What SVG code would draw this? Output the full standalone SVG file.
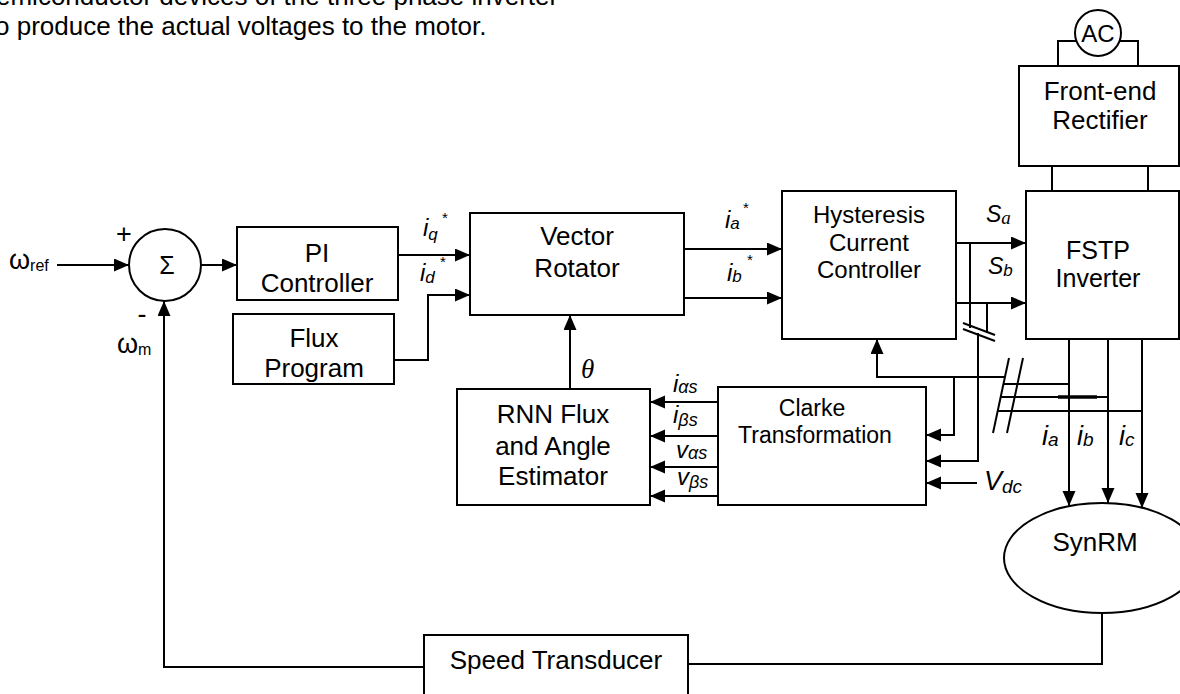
<svg xmlns="http://www.w3.org/2000/svg" width="1180" height="694" viewBox="0 0 1180 694">
<style>
text{font-family:"Liberation Sans",Arial,sans-serif;fill:#000}
.box{fill:#fff;stroke:#000;stroke-width:2}
.ln{fill:none;stroke:#000;stroke-width:2}
.arr{marker-end:url(#ah)}
.c{text-anchor:middle}
.f26{font-size:26px}
.f24{font-size:24px}
.it{font-style:italic}
.ser{font-family:"Liberation Serif","Times New Roman",serif}
.title{font-size:26px}
</style>
<defs>
<marker id="ah" markerUnits="userSpaceOnUse" markerWidth="16" markerHeight="14" refX="15" refY="6.5" orient="auto"><path d="M0,0 L15,6.5 L0,13 z" fill="#000"/></marker>
</defs>
<rect width="1180" height="694" fill="#fff"/>
<g id="title">
<text class="title" x="-4" y="5">emiconductor devices of the three phase inverter</text>
<text class="title" x="-5" y="35">o produce the actual voltages to the motor.</text>
</g>
<g id="connectors">
<line class="ln arr" x1="57" y1="265" x2="129" y2="265"/>
<line class="ln arr" x1="201" y1="265" x2="237" y2="265"/>
<line class="ln arr" x1="398" y1="255" x2="470" y2="255"/>
<polyline class="ln arr" points="394,360 428,360 428,295 470,295"/>
<line class="ln arr" x1="684" y1="249" x2="782" y2="249"/>
<line class="ln arr" x1="684" y1="298" x2="782" y2="298"/>
<line class="ln arr" x1="570" y1="389" x2="570" y2="315"/>
<line class="ln arr" x1="956" y1="243" x2="1026" y2="243"/>
<line class="ln arr" x1="956" y1="303" x2="1026" y2="303"/>
<line class="ln" x1="1052" y1="166" x2="1052" y2="191"/>
<line class="ln" x1="1148" y1="166" x2="1148" y2="191"/>
<polyline class="ln" points="1076,41 1058,41 1058,66"/>
<polyline class="ln" points="1120,41 1138,41 1138,66"/>
<line class="ln" x1="970" y1="243" x2="970" y2="328"/>
<line class="ln" x1="987" y1="303" x2="987" y2="333"/>
<line class="ln" x1="963" y1="323" x2="995" y2="335"/>
<line class="ln" x1="963" y1="329" x2="995" y2="341"/>
<polyline class="ln arr" points="978,333 978,461 926,461"/>
<polyline class="ln arr" points="1005,377 877,377 877,339"/>
<polyline class="ln arr" points="954,377 954,435 926,435"/>
<line class="ln arr" x1="977" y1="483" x2="926" y2="483"/>
<line class="ln" x1="1009" y1="358" x2="993" y2="433"/>
<line class="ln" x1="1023" y1="358" x2="1007" y2="433"/>
<line class="ln" x1="1003" y1="384" x2="1069" y2="384"/>
<line class="ln" x1="1000" y1="397" x2="1108" y2="397"/>
<line class="ln" x1="997" y1="411" x2="1142" y2="411"/>
<line x1="1058" y1="397" x2="1097" y2="397" stroke="#000" stroke-width="3.5"/>
<line class="ln arr" x1="1069" y1="339" x2="1069" y2="506"/>
<line class="ln arr" x1="1108" y1="339" x2="1108" y2="503"/>
<line class="ln arr" x1="1142" y1="339" x2="1142" y2="508"/>
<line class="ln arr" x1="718" y1="402" x2="650" y2="402"/>
<line class="ln arr" x1="718" y1="436" x2="650" y2="436"/>
<line class="ln arr" x1="718" y1="467" x2="650" y2="467"/>
<line class="ln arr" x1="718" y1="496" x2="650" y2="496"/>
<polyline class="ln" points="1102,613 1102,664 688,664"/>
<polyline class="ln arr" points="424,667 164,667 164,301"/>
</g>
<g id="sum">
<circle class="box" cx="165" cy="265" r="36"/>
<text class="c" x="167" y="274" font-size="25">Σ</text>
</g>
<g id="pi">
<rect class="box" x="237" y="227" width="161" height="73"/>
<text class="c f26" x="317" y="262">PI</text>
<text class="c f26" x="317" y="292">Controller</text>
</g>
<g id="flux">
<rect class="box" x="233" y="314" width="161" height="70"/>
<text class="c f26" x="314" y="347">Flux</text>
<text class="c f26" x="314" y="377">Program</text>
</g>
<g id="vector">
<rect class="box" x="470" y="213" width="214" height="102"/>
<text class="c f26" x="577" y="245">Vector</text>
<text class="c f26" x="577" y="277">Rotator</text>
</g>
<g id="hysteresis">
<rect class="box" x="782" y="191" width="174" height="148"/>
<text class="c f24" x="869" y="223">Hysteresis</text>
<text class="c f24" x="869" y="251">Current</text>
<text class="c f24" x="869" y="278">Controller</text>
</g>
<g id="fstp">
<rect class="box" x="1026" y="191" width="153" height="148"/>
<text class="c" font-size="25" x="1098" y="259">FSTP</text>
<text class="c" font-size="25" x="1098" y="287">Inverter</text>
</g>
<g id="rectifier">
<rect class="box" x="1019" y="66" width="160" height="100"/>
<text class="c f26" x="1100" y="100">Front-end</text>
<text class="c f26" x="1100" y="129">Rectifier</text>
</g>
<g id="ac">
<circle class="box" cx="1098" cy="33" r="23"/>
<text class="c f24" x="1098" y="42">AC</text>
</g>
<g id="rnn">
<rect class="box" x="457" y="389" width="193" height="116"/>
<text class="c f26" x="553" y="423">RNN Flux</text>
<text class="c f26" x="553" y="455">and Angle</text>
<text class="c f26" x="553" y="485">Estimator</text>
</g>
<g id="clarke">
<rect class="box" x="718" y="387" width="208" height="118"/>
<text class="c" font-size="23" x="812" y="416">Clarke</text>
<text class="c" font-size="23" x="815" y="443">Transformation</text>
</g>
<g id="synrm">
<ellipse class="box" cx="1102" cy="558" rx="98" ry="55"/>
<text class="c f26" x="1095" y="551">SynRM</text>
</g>
<g id="speed">
<rect class="box" x="424" y="635" width="264" height="72"/>
<text class="c f26" x="556" y="669">Speed Transducer</text>
</g>
<g id="labels">
<text font-size="27" x="9" y="269">ω<tspan font-size="16" dy="2">ref</tspan></text>
<text font-size="27" x="117" y="353">ω<tspan font-size="16" dy="2">m</tspan></text>
<text class="c" font-size="27" x="124" y="243">+</text>
<text class="c" font-size="27" x="142" y="323">-</text>
<text class="it" font-size="24" x="423" y="236">i<tspan font-size="17" dy="4">q</tspan></text>
<text font-size="15" x="442" y="223">*</text>
<text class="it" font-size="24" x="420" y="281">i<tspan font-size="17" dy="2">d</tspan></text>
<text font-size="15" x="440" y="267">*</text>
<text class="it" font-size="24" x="725" y="228">i<tspan font-size="17" dy="1">a</tspan></text>
<text font-size="15" x="743" y="213">*</text>
<text class="it" font-size="24" x="727" y="281">i<tspan font-size="17" dy="1">b</tspan></text>
<text font-size="15" x="747" y="265">*</text>
<text class="it ser" font-size="27" x="581" y="378">θ</text>
<text class="it" font-size="23" x="986" y="222">S<tspan class="ser" font-size="19" dy="2">a</tspan></text>
<text class="it" font-size="23" x="988" y="274">S<tspan font-size="17" dy="2">b</tspan></text>
<text class="it" font-size="24" x="673" y="392">i<tspan font-size="18" dy="1">αs</tspan></text>
<text class="it" font-size="24" x="673" y="423">i<tspan font-size="18" dy="3">βs</tspan></text>
<text class="it" font-size="24" x="676" y="458">v<tspan font-size="18" dy="1">αs</tspan></text>
<text class="it" font-size="24" x="677" y="485">v<tspan font-size="18" dy="3">βs</tspan></text>
<text class="it" font-size="27" x="1042" y="445">i<tspan font-size="19" dy="1">a</tspan></text>
<text class="it" font-size="27" x="1077" y="445">i<tspan font-size="19" dy="1">b</tspan></text>
<text class="it" font-size="27" x="1119" y="445">i<tspan font-size="19" dy="1">c</tspan></text>
<text class="it" font-size="27" x="984" y="490">V<tspan font-size="19" dy="3">dc</tspan></text>
</g>
</svg>
